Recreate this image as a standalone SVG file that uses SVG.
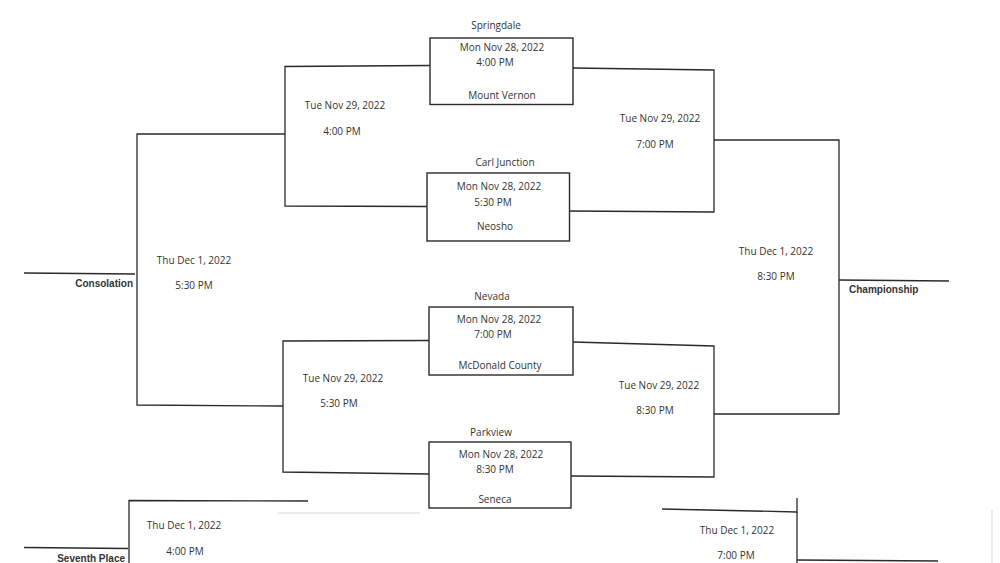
<svg xmlns="http://www.w3.org/2000/svg" width="1000" height="563" viewBox="0 0 1000 563">
<style>
.ln{fill:none;stroke:#2a2a2a;stroke-width:1.3}
.faint{fill:none;stroke:#d8d8d8;stroke-width:1}
.box{fill:none;stroke:#2a2a2a;stroke-width:1.4}
.t{font-family:"Open Sans","Noto Sans",sans-serif;font-size:10px;fill:#333;text-anchor:middle}
.b{font-family:"Liberation Sans",Arial,sans-serif;font-size:10px;font-weight:bold;fill:#333}
</style>
<rect width="1000" height="563" fill="#fff"/>
<g id="connectors">
<polyline class="ln" points="430,65.5 285,66.5 285,206 427,206.5"/>
<polyline class="ln" points="573,68 714,70 714,212 569,211"/>
<polyline class="ln" points="429,340.5 283,341 283,472 429,474"/>
<polyline class="ln" points="573,342 714,346 714,477 571,476"/>
<polyline class="ln" points="285,134 137,134 137,405 283,406"/>
<polyline class="ln" points="714,140 839,140 839,414 714,414"/>
<line class="ln" x1="24" y1="273" x2="135" y2="274"/>
<line class="ln" x1="839" y1="280" x2="949" y2="281"/>
<polyline class="ln" points="308,501 129,500.5 129,563"/>
<line class="ln" x1="24" y1="547.5" x2="128" y2="548.5"/>
<polyline class="ln" points="662,509 797,512 797,498"/>
<line class="ln" x1="797" y1="512" x2="797" y2="563"/>
<line class="ln" x1="797" y1="560" x2="938" y2="561"/>
<line class="faint" x1="278" y1="513" x2="420" y2="513"/>
<line class="faint" x1="992" y1="510" x2="992" y2="563"/>
</g>
<g id="game1">
<rect class="box" x="430" y="38" width="143" height="66.5"/>
<text class="t" x="496" y="29">Springdale</text>
<text class="t" x="502" y="51">Mon Nov 28, 2022</text>
<text class="t" x="495" y="66">4:00 PM</text>
<text class="t" x="502" y="99">Mount Vernon</text>
</g>
<g id="game2">
<rect class="box" x="427" y="173" width="142.5" height="68"/>
<text class="t" x="505" y="166">Carl Junction</text>
<text class="t" x="499" y="190">Mon Nov 28, 2022</text>
<text class="t" x="493" y="206">5:30 PM</text>
<text class="t" x="495" y="230">Neosho</text>
</g>
<g id="game3">
<rect class="box" x="429" y="307" width="144" height="68"/>
<text class="t" x="492" y="300">Nevada</text>
<text class="t" x="499" y="323">Mon Nov 28, 2022</text>
<text class="t" x="493" y="338">7:00 PM</text>
<text class="t" x="500" y="369">McDonald County</text>
</g>
<g id="game4">
<rect class="box" x="429" y="442" width="142" height="66"/>
<text class="t" x="491" y="436">Parkview</text>
<text class="t" x="501" y="458">Mon Nov 28, 2022</text>
<text class="t" x="495" y="473">8:30 PM</text>
<text class="t" x="495" y="503">Seneca</text>
</g>
<g id="semi1">
<text class="t" x="345" y="109">Tue Nov 29, 2022</text>
<text class="t" x="342" y="135">4:00 PM</text>
</g>
<g id="semi2">
<text class="t" x="660" y="122">Tue Nov 29, 2022</text>
<text class="t" x="655" y="148">7:00 PM</text>
</g>
<g id="semi3">
<text class="t" x="343" y="382">Tue Nov 29, 2022</text>
<text class="t" x="339" y="407">5:30 PM</text>
</g>
<g id="semi4">
<text class="t" x="659" y="389">Tue Nov 29, 2022</text>
<text class="t" x="655" y="414">8:30 PM</text>
</g>
<g id="consolation">
<text class="t" x="194" y="264">Thu Dec 1, 2022</text>
<text class="t" x="194" y="289">5:30 PM</text>
<text class="b" x="133" y="287" text-anchor="end">Consolation</text>
</g>
<g id="championship">
<text class="t" x="776" y="255">Thu Dec 1, 2022</text>
<text class="t" x="776" y="280">8:30 PM</text>
<text class="b" x="849" y="293">Championship</text>
</g>
<g id="seventh">
<text class="t" x="184" y="529">Thu Dec 1, 2022</text>
<text class="t" x="185" y="555">4:00 PM</text>
<text class="b" x="125" y="562" text-anchor="end">Seventh Place</text>
</g>
<g id="fifth">
<text class="t" x="737" y="534">Thu Dec 1, 2022</text>
<text class="t" x="736" y="559">7:00 PM</text>
</g>
</svg>
